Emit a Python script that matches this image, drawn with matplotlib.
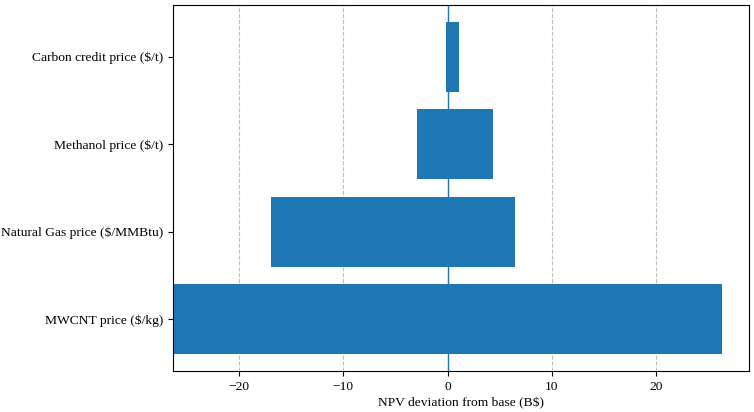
import numpy as np
import matplotlib.pyplot as plt

plt.rcParams['font.family'] = ['Liberation Serif', 'DejaVu Serif']

# tornado data (B$ deviation from base NPV)
params = ['MWCNT price ($/kg)', 'Natural Gas price ($/MMBtu)',
          'Methanol price ($/t)', 'Carbon credit price ($/t)']
low_dev = [-26.3, -16.9, -2.9, -0.1]
high_dev = [26.3, 6.5, 4.4, 1.1]

fig, ax = plt.subplots(figsize=(7.54, 4.12), dpi=100)
y = np.arange(len(params))
low = np.array(low_dev)
high = np.array(high_dev)
ax.barh(y, high - low, left=low, height=0.8, color='#1f77b4')
ax.axvline(0, color='#1f77b4', linewidth=1)

ax.set_yticks(y)
ax.set_yticklabels(params, fontsize=9.7)
ax.tick_params(axis='x', labelsize=9.7)
ax.set_xlim(-26.3, 28.9)
ax.set_xlabel('NPV deviation from base (B$)', fontsize=9.7, labelpad=3)
ax.grid(axis='x', linestyle='--', color='#c0c0c0', linewidth=0.8)
ax.set_axisbelow(True)

plt.subplots_adjust(left=0.23, right=0.993, top=0.988, bottom=0.1)
plt.savefig('out.png')
